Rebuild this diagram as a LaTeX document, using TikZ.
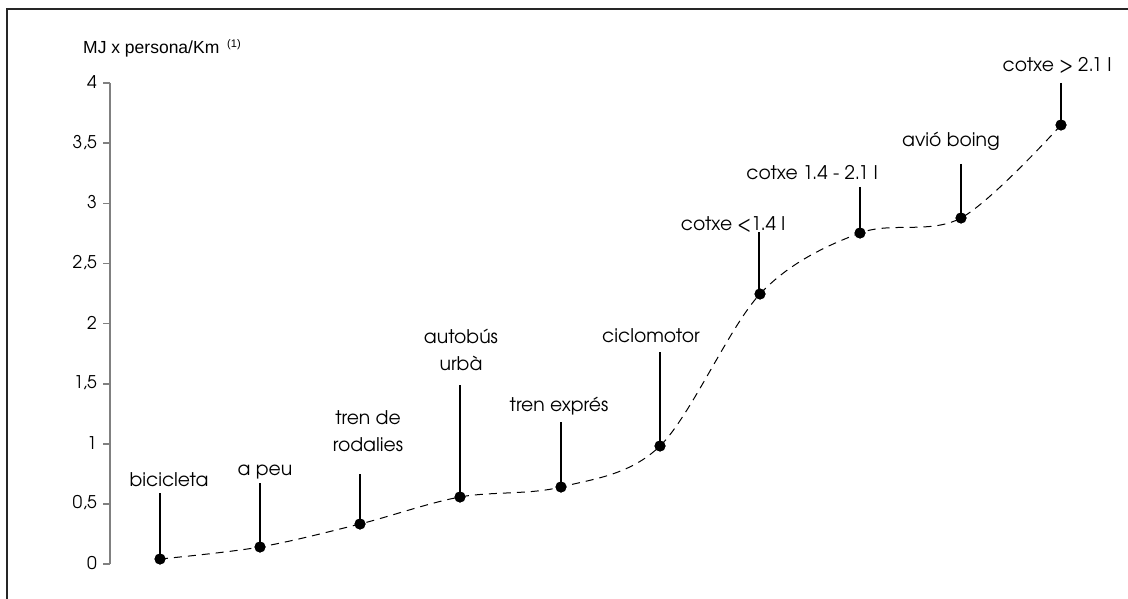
\documentclass[tikz,border=0pt]{standalone}
\usepackage{fontspec}
\newfontfamily\labfont{TeX Gyre Adventor}
\newfontfamily\arfont{Liberation Sans}
\begin{document}
\begin{tikzpicture}[x=1pt,y=-1pt,
  dot/.style={circle,fill=black,inner sep=0pt,minimum size=11pt},
  lab/.style={font=\labfont\fontsize{18.8}{27}\selectfont,inner sep=0pt},
  tick/.style={font=\labfont\fontsize{17.5}{18}\selectfont,inner sep=0pt,anchor=east},
  stem/.style={line width=2pt,black},
  curve/.style={line width=1pt,dash pattern=on 8pt off 6pt},
  axis/.style={line width=1.6pt,black!50}]
\useasboundingbox (0,0) rectangle (1128,599);
\draw[line width=2pt,black!85] (7,9) rectangle (1140,612);
% axis
\coordinate (ytop) at (110,83);
\coordinate (ybot) at (110,564);
\draw[axis] (ytop) -- (ybot);
\foreach \v/\t [count=\i] in {0/0,0.5/{0,5},1/1,1.5/{1,5},2/2,2.5/{2,5},3/3,3.5/{3,5},4/4}{
  \coordinate (tk\i) at (110,564-120.2*\v);
  \draw[axis] (tk\i) -- ++(-7,0);
  \node[tick] (tl\i) at ([xshift=-13pt,yshift=1pt]tk\i) {\t};
}
\node[font=\arfont\fontsize{17.5}{19}\selectfont,inner sep=0pt,anchor=base west] (ttl) at (83,54) {MJ x persona/Km\hspace{0.45em}\raisebox{6pt}{\fontsize{11}{12}\selectfont(1)}};
% data points
\node[dot] (bic) at (160,559) {};
\node[dot] (peu) at (260,547) {};
\node[dot] (rod) at (360,524) {};
\node[dot] (aut) at (460,497) {};
\node[dot] (exp) at (561,487) {};
\node[dot] (cic) at (660,446) {};
\node[dot] (ca) at (760,294) {};
\node[dot] (cb) at (860,233) {};
\node[dot] (avi) at (961,218) {};
\node[dot] (cc) at (1061,125) {};
% curve
\draw[curve] plot[smooth,tension=0.55] coordinates {(bic.center) (peu.center) (rod.center) (aut.center) (exp.center) (cic.center) (ca.center) (cb.center) (avi.center) (cc.center)};
% redraw dots on top
\foreach \n in {bic,peu,rod,aut,exp,cic,ca,cb,avi,cc}{\fill (\n.center) circle (5.5pt);}
% labels
\node[lab,anchor=base] (lbic) at (169,486) {bicicleta};
\node[lab,anchor=base] (lpeu) at (265,475) {a peu};
\node[lab,align=center] (lrod) at (368,431) {tren de\\rodalies};
\node[lab,align=center] (laut) at (461,350) {autobús\\urbà};
\node[lab,anchor=base] (lexp) at (559,411) {tren exprés};
\node[lab,anchor=base] (lcic) at (651,342) {ciclomotor};
\node[lab,anchor=base] (lca) at (733,230) {cotxe <1.4 l};
\node[lab,anchor=base] (lcb) at (812,179) {cotxe 1.4 - 2.1 l};
\node[lab,anchor=base] (lavi) at (951,147) {avió boing};
\node[lab,anchor=base] (lcc) at (1057,72) {cotxe > 2.1 l};
% stems
\coordinate (sbic) at (160,493);
\coordinate (speu) at (260,483);
\coordinate (srod) at (360,474);
\coordinate (saut) at (460,385);
\coordinate (sexp) at (561,422);
\coordinate (scic) at (660,352);
\coordinate (sca) at (759,232);
\coordinate (scb) at (860,187);
\coordinate (savi) at (961,164);
\coordinate (scc) at (1061,83);
\foreach \n in {bic,peu,rod,aut,exp,cic,ca,cb,avi,cc}{\draw[stem] (s\n) -- (s\n |- \n.center);}
\end{tikzpicture}
\end{document}
